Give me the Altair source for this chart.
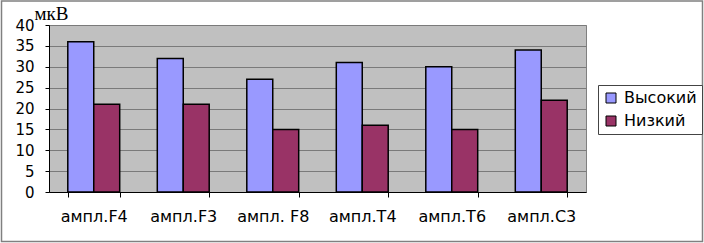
import altair as alt
import pandas as pd

categories = ["ампл.F4", "ампл.F3", "ампл. F8", "ампл.T4", "ампл.T6", "ампл.C3"]
groups = ["Высокий", "Низкий"]
high = [36, 32, 27, 31, 30, 34]
low = [21, 21, 15, 16, 15, 22]
colors = ["#9999FF", "#993366"]
y_ticks = [0, 5, 10, 15, 20, 25, 30, 35, 40]

rows = []
for c, h, l in zip(categories, high, low):
    rows.append({"cat": c, "group": groups[0], "value": h})
    rows.append({"cat": c, "group": groups[1], "value": l})
df = pd.DataFrame(rows)

bars = alt.Chart(df).mark_bar(stroke="black", strokeWidth=1.5).encode(
    x=alt.X("cat:N", sort=categories,
            scale=alt.Scale(paddingInner=0.42, paddingOuter=0.21),
            axis=alt.Axis(title=None, labelAngle=0, tickBand="extent",
                          labelFont="DejaVu Sans", labelFontSize=16, labelColor="black",
                          labelPadding=11, tickSize=5, tickColor="black",
                          domainColor="black", grid=False)),
    xOffset=alt.XOffset("group:N", sort=groups),
    y=alt.Y("value:Q", scale=alt.Scale(domain=[0, 40]),
            axis=alt.Axis(values=y_ticks, title="мкВ", titleAngle=0,
                          titleX=2, titleY=-12, titleAlign="center", titleBaseline="middle",
                          titleFont="Liberation Serif", titleFontSize=19,
                          titleFontWeight="normal", titleColor="black",
                          labelFont="DejaVu Sans", labelFontSize=15, labelColor="black",
                          labelPadding=11, tickSize=4, tickColor="black",
                          domainColor="black", gridColor="#7a7a7a", gridOpacity=1)),
    color=alt.Color("group:N", sort=groups,
                    scale=alt.Scale(domain=groups, range=colors),
                    legend=alt.Legend(title=None, orient="none", legendX=549, legendY=60,
                                      fillColor="white", strokeColor="#444444",
                                      padding=5, rowPadding=7,
                                      symbolType="square", symbolSize=100,
                                      symbolStrokeColor="black", symbolStrokeWidth=1,
                                      symbolOpacity=1,
                                      labelFont="DejaVu Sans", labelFontSize=16,
                                      labelColor="black", labelOffset=5)),
)

frame = alt.Chart(pd.DataFrame({"a": [0]})).mark_rect(
    fillOpacity=0, stroke="#808080", strokeWidth=1.5, clip=False
).encode(
    x=alt.value(-47.5), x2=alt.value(653.5), y=alt.value(-24), y2=alt.value(216.5)
)

chart = alt.layer(bars, frame).properties(
    width=537, height=167,
    padding={"left": 49, "top": 25, "right": 118, "bottom": 51},
    autosize=alt.AutoSizeParams(type="none"),
    background="white",
).configure_view(stroke="#808080", fill="#C0C0C0")

chart.save("out.html", embed_options={"renderer": "svg", "actions": False})
